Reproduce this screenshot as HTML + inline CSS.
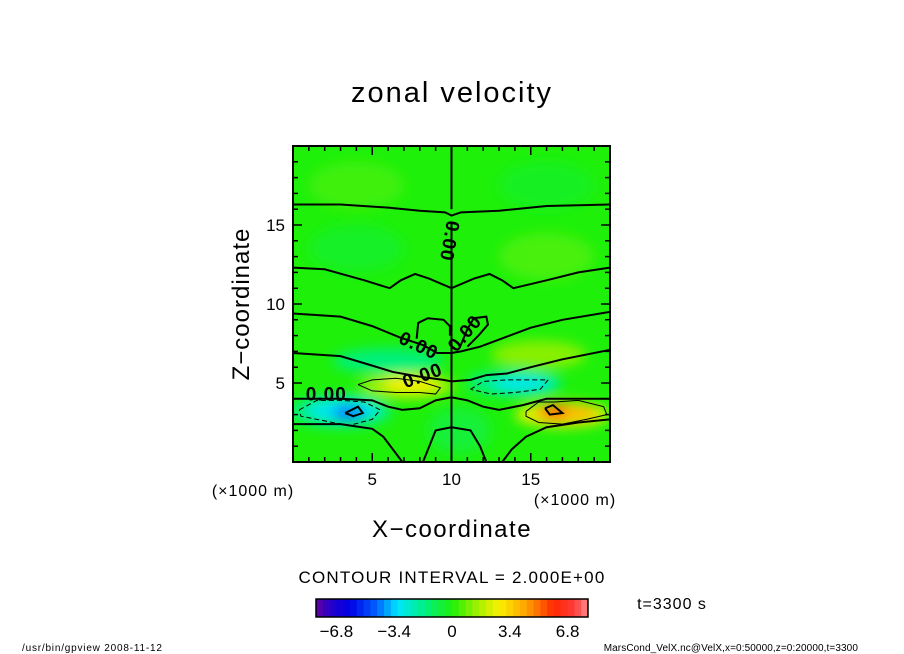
<!DOCTYPE html>
<html><head><meta charset="utf-8">
<style>
body{margin:0;background:#fff;}
svg{display:block;font-family:"Liberation Sans",sans-serif;}
</style></head>
<body>
<svg id="chart" width="904" height="654" viewBox="0 0 904 654">
<defs>
<clipPath id="pc"><rect x="293" y="146" width="317" height="316"/></clipPath>
<filter id="blur" x="-50%" y="-50%" width="200%" height="200%"><feGaussianBlur stdDeviation="6"/></filter>
</defs>
<text x="452" y="102" font-size="29" letter-spacing="2" text-anchor="middle">zonal velocity</text>
<g id="field" clip-path="url(#pc)">
<rect x="293" y="146" width="317" height="316" fill="rgb(30,240,10)"/>
</g>
<g id="contours" clip-path="url(#pc)" fill="none" stroke="#000"></g>
<g id="axes"></g>
<text transform="translate(249,304) rotate(-90)" font-size="24" letter-spacing="1" text-anchor="middle">Z−coordinate</text>
<text x="253" y="496" font-size="16" letter-spacing="1" text-anchor="middle">(×1000 m)</text>
<text x="575" y="505" font-size="16" letter-spacing="1" text-anchor="middle">(×1000 m)</text>
<text x="452" y="537" font-size="24" letter-spacing="1.5" text-anchor="middle">X−coordinate</text>
<text x="452" y="583" font-size="17" letter-spacing="1.2" text-anchor="middle">CONTOUR INTERVAL = 2.000E+00</text>
<g id="cbar"></g>
<text x="672" y="609" font-size="16" letter-spacing="1" text-anchor="middle">t=3300 s</text>
<text x="22" y="651" font-size="10" letter-spacing="0.8">/usr/bin/gpview   2008-11-12</text>
<text x="858" y="651" font-size="10" letter-spacing="0.1" text-anchor="end">MarsCond_VelX.nc@VelX,x=0:50000,z=0:20000,t=3300</text>
</svg>
<script>
const NS="http://www.w3.org/2000/svg";
// axis domain
const xDomain=[0,20], zDomain=[0,20];
const xTicks=[5,10,15], zTicks=[5,10,15];
// anomaly blobs: center x, center z, value
const blobX=[3.0,3.2,3.5,14.0,14.5,7.2,7.5,17.0,17.2,16.5,6.0,15.5,4.0,16,4,16,10.5];
const blobZ=[3.2,3.3,3.1,5.0,4.9,4.8,4.9,3.0,3.1,3.2,6.4,6.8,13.5,13.0,17.5,17.5,2.0];
const blobV=[-1.8,-3.0,-4.5,-1.8,-3.0,1.5,2.8,2.5,3.8,5.5,-1.5,1.2,-0.4,0.5,0.4,-0.3,-0.6];
const blobRX=[3.2,2.2,1.0,3.0,1.8,3.0,1.8,3.0,2.0,0.8,3.5,3.0,3.0,3.0,3,3,2];
const blobRZ=[1.0,0.7,0.4,0.8,0.5,0.8,0.5,0.8,0.6,0.4,0.8,0.9,1.5,1.5,1.5,1.5,1.5];
// colorbar levels
const cbLevels=[-8,-7.6,-7.2,-6.8,-6.4,-6,-5.6,-5.2,-4.8,-4.4,-4,-3.6,-3.2,-2.8,-2.4,-2,-1.6,-1.2,-0.8,-0.4,0,0.4,0.8,1.2,1.6,2,2.4,2.8,3.2,3.6,4,4.4,4.8,5.2,5.6,6,6.4,6.8,7.2,7.6,8];
const cbTicks=[-6.8,-3.4,0,3.4,6.8];
// contour lines (x,z pairs)
const contourLines=[
 [[0,16.3],[3,16.3],[6,16.1],[8,15.9],[9.6,15.8],[10,15.6],[10.6,15.8],[13,15.9],[16,16.2],[20,16.3]],
 [[0,12.3],[2,12.2],[4.5,11.5],[6.1,11.0],[6.8,11.5],[7.7,11.9],[8.6,11.6],[10,11.0],[11.4,11.6],[12.4,11.9],[13.2,11.5],[13.9,11.0],[16,11.5],[18,12.0],[20,12.3]],
 [[0,9.4],[3,9.2],[5,8.6],[6.7,7.9],[8.2,7.4],[9.1,6.9],[10,6.9],[10.6,7.0],[11.8,7.3],[12.6,7.6],[15,8.5],[17,9.0],[20,9.5]],
 [[0,6.9],[3,6.7],[5,6.1],[6.3,5.7],[8,5.4],[9.5,5.2],[10,5.1],[11.2,5.2],[12.2,5.5],[13.5,5.6],[15,6.0],[17,6.5],[20,7.1]],
 [[0,4.0],[3,4.0],[5,3.9],[6,3.5],[6.9,3.3],[8,3.4],[9,3.9],[10,4.1],[11,3.9],[12,3.5],[13,3.3],[14.5,3.6],[16,4.0],[20,4.0]],
 [[0,2.4],[3,2.4],[5,2.1],[5.7,1.6],[6.3,0.8],[6.9,0]],
 [[20,2.7],[18,2.5],[16,2.2],[14.7,1.6],[13.8,0.8],[13.2,0]],
 [[8.2,0],[8.6,1.0],[9.0,2.0],[10,2.2]],
 [[12.2,0],[11.8,1.0],[11.2,2.0],[10,2.2]],
 [[10,0],[10,15.2]],
 [[10,16.0],[10,20]],
 [[7.8,7.8],[7.9,8.8],[8.5,9.1],[9.5,9.0],[9.9,8.6],[9.9,8.0]],
 [[10.5,7.2],[11.0,8.4],[11.4,9.1],[12.2,9.2],[12.3,8.7],[11.7,8.0],[11.0,7.3]]
];
// thin closed contours (positive 2.0 level)
const thinLines=[
 [[4.1,4.9],[5,5.2],[6.5,5.3],[8,5.1],[9.3,4.7],[9.0,4.3],[8,4.4],[6.5,4.4],[5,4.5],[4.1,4.9]],
 [[14.7,3.2],[15.5,3.8],[16.5,3.8],[18,3.9],[19.6,3.5],[19.8,3.0],[18.5,2.7],[17,2.4],[15.5,2.5],[14.7,2.9],[14.7,3.2]]
];
const dashLines=[
 [[0.4,3.3],[1.5,3.9],[3,3.9],[4.5,3.8],[5.5,3.3],[5.0,2.7],[3.5,2.3],[2,2.6],[0.5,2.9],[0.4,3.3]],
 [[11.2,4.6],[12,5.1],[13.5,5.2],[15,5.2],[16.1,5.2],[15.6,4.6],[14,4.4],[12.5,4.3],[11.2,4.6]]
];
const thickLoops=[
 [[3.3,3.1],[4.1,3.5],[4.4,3.1],[3.8,2.9],[3.3,3.1]],
 [[15.9,3.4],[16.4,3.6],[17.0,3.1],[16.2,3.0],[15.9,3.4]]
];
const labels=[{x:2.1,z:4.2,t:"0.00",r:0},{x:7.9,z:7.3,t:"0.00",r:25},{x:9.8,z:14.0,t:"0.00",r:100},{x:10.9,z:8.1,t:"0.00",r:-50},{x:8.2,z:5.4,t:"0.00",r:-20}];

const X0=293,X1=610,Y0=462,Y1=146;
const sx=v=>X0+(v-xDomain[0])/(xDomain[1]-xDomain[0])*(X1-X0);
const sz=v=>Y0-(v-zDomain[0])/(zDomain[1]-zDomain[0])*(Y0-Y1);
function cmap(v){
 const stops=[[-8,[100,0,160]],[-7.2,[40,0,200]],[-6,[0,0,230]],[-4.4,[0,100,255]],[-3.2,[0,230,255]],[-1.6,[0,240,130]],[0,[30,240,10]],[1.6,[170,240,0]],[2.8,[250,240,0]],[4.4,[255,160,0]],[6,[255,40,0]],[7.2,[255,60,60]],[8,[255,140,140]]];
 if(v<=stops[0][0])return stops[0][1];
 for(let i=1;i<stops.length;i++){if(v<=stops[i][0]){const a=stops[i-1],b=stops[i],t=(v-a[0])/(b[0]-a[0]);return a[1].map((c,k)=>Math.round(c+(b[1][k]-c)*t));}}
 return stops[stops.length-1][1];
}
const rgb=c=>`rgb(${c[0]},${c[1]},${c[2]})`;
const field=document.getElementById('field');
const bl=document.createElementNS(NS,'g');bl.setAttribute('filter','url(#blur)');field.appendChild(bl);
const order=blobV.map((v,i)=>i).sort((a,b)=>Math.abs(blobV[a])-Math.abs(blobV[b]));
order.forEach(i=>{
 const e=document.createElementNS(NS,'ellipse');
 
 
 e.setAttribute('cx',sx(blobX[i]));e.setAttribute('cy',sz(blobZ[i]));
 e.setAttribute('rx',blobRX[i]*15.85);e.setAttribute('ry',blobRZ[i]*15.8);
 e.setAttribute('fill',rgb(cmap(blobV[i])));bl.appendChild(e);
});
const cg=document.getElementById('contours');
function poly(pts,w,dash,name){
 const p=document.createElementNS(NS,'polyline');
 
 
 p.setAttribute('points',pts.map(q=>sx(q[0])+','+sz(q[1])).join(' '));
 p.setAttribute('stroke-width',w);if(dash)p.setAttribute('stroke-dasharray',dash);
 cg.appendChild(p);
}
contourLines.forEach(l=>poly(l,2,null,'zero-contour'));
thinLines.forEach(l=>poly(l,1,null,'positive-contour'));
dashLines.forEach(l=>poly(l,1,'5,3','negative-contour'));
thickLoops.forEach(l=>poly(l,2,null,'strong-contour'));
labels.forEach(L=>{
 const t=document.createElementNS(NS,'text');
 
 
 t.setAttribute('x',sx(L.x));t.setAttribute('y',sz(L.z));t.setAttribute('font-size','19');
 t.setAttribute('font-weight','bold');t.setAttribute('letter-spacing','1');
 t.setAttribute('text-anchor','middle');t.setAttribute('dominant-baseline','middle');
 t.setAttribute('stroke','none');t.setAttribute('fill','#000');
 t.setAttribute('transform',`rotate(${L.r},${sx(L.x)},${sz(L.z)})`);
 t.textContent=L.t;cg.appendChild(t);
});
const ax=document.getElementById('axes');
const fr=document.createElementNS(NS,'rect');


fr.setAttribute('x',X0);fr.setAttribute('y',Y1);fr.setAttribute('width',X1-X0);fr.setAttribute('height',Y0-Y1);
fr.setAttribute('fill','none');fr.setAttribute('stroke','#000');fr.setAttribute('stroke-width','2');ax.appendChild(fr);
function line(x1,y1,x2,y2,name){const l=document.createElementNS(NS,'line');
 
 
 l.setAttribute('x1',x1);l.setAttribute('y1',y1);l.setAttribute('x2',x2);l.setAttribute('y2',y2);l.setAttribute('stroke','#000');l.setAttribute('stroke-width','1.5');ax.appendChild(l);}
for(let v=1;v<20;v++){const L=v%5===0?9:5;
 line(sx(v),Y0,sx(v),Y0-L,'x-tick');line(sx(v),Y1,sx(v),Y1+L,'x-tick');
 line(X0,sz(v),X0+L,sz(v),'z-tick');line(X1,sz(v),X1-L,sz(v),'z-tick');}
xTicks.forEach(v=>{const t=document.createElementNS(NS,'text');
 
 
 t.setAttribute('x',sx(v));t.setAttribute('y',485);t.setAttribute('font-size','17');t.setAttribute('text-anchor','middle');t.textContent=v;ax.appendChild(t);});
zTicks.forEach(v=>{const t=document.createElementNS(NS,'text');
 
 
 t.setAttribute('x',285);t.setAttribute('y',sz(v)+6);t.setAttribute('font-size','17');t.setAttribute('text-anchor','end');t.textContent=v;ax.appendChild(t);});
const cb=document.getElementById('cbar');
const CB0=316,CB1=588,CBY=599,CBH=18;
const cs=v=>CB0+(v-cbLevels[0])/(cbLevels[cbLevels.length-1]-cbLevels[0])*(CB1-CB0);
for(let i=0;i<cbLevels.length-1;i++){const r=document.createElementNS(NS,'rect');
 
 
 r.setAttribute('x',cs(cbLevels[i]));r.setAttribute('y',CBY);r.setAttribute('width',cs(cbLevels[i+1])-cs(cbLevels[i])+0.5);r.setAttribute('height',CBH);
 r.setAttribute('fill',rgb(cmap((cbLevels[i]+cbLevels[i+1])/2)));cb.appendChild(r);}
const cf=document.createElementNS(NS,'rect');


cf.setAttribute('x',CB0);cf.setAttribute('y',CBY);cf.setAttribute('width',CB1-CB0);cf.setAttribute('height',CBH);cf.setAttribute('fill','none');cf.setAttribute('stroke','#000');cf.setAttribute('stroke-width','1.5');cb.appendChild(cf);
cbTicks.forEach(v=>{const t=document.createElementNS(NS,'text');
 
 
 t.setAttribute('x',cs(v));t.setAttribute('y',637);t.setAttribute('font-size','17');t.setAttribute('text-anchor','middle');t.textContent=v<0?'−'+Math.abs(v):v;cb.appendChild(t);});
</script>
</body></html>
